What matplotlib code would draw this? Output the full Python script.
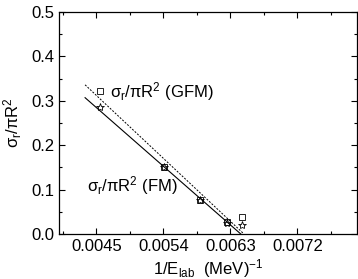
import numpy as np
import matplotlib.pyplot as plt
from matplotlib.ticker import MultipleLocator

plt.rcParams['font.family'] = ['Liberation Sans', 'DejaVu Sans']
plt.rcParams['mathtext.default'] = 'regular'
plt.rcParams['axes.unicode_minus'] = False

# data points (1/E_lab, sigma_r / pi R^2)
inv_e = [0.00455, 0.00541, 0.00589, 0.00626, 0.00646]
sig_gfm = [0.322, 0.151, 0.077, 0.027, 0.039]
sig_fm = [0.286, 0.150, 0.077, 0.025, 0.020]

# linear fits (end points)
fit_x_gfm = [0.00435, 0.00647]
fit_y_gfm = [0.336, 0.002]
fit_x_fm = [0.00435, 0.00644]
fit_y_fm = [0.307, 0.000]

xticks = [0.0045, 0.0054, 0.0063, 0.0072]
xtick_labels = ['0.0045', '0.0054', '0.0063', '0.0072']

fig = plt.figure(figsize=(3.58, 2.79), dpi=100)
ax = fig.add_axes([59 / 358, 1 - 234 / 279, 298 / 358, 222 / 279])

ax.plot(fit_x_gfm, fit_y_gfm, color='black', linestyle=(0, (2, 1.5)), linewidth=0.7)
ax.plot(fit_x_fm, fit_y_fm, color='black', linestyle='-', linewidth=0.8)
ax.plot(inv_e, sig_gfm, linestyle='none', marker='s', markersize=4.5,
        markerfacecolor='none', markeredgecolor='black', markeredgewidth=0.6)
ax.plot(inv_e, sig_fm, linestyle='none', marker='*', markersize=6,
        markerfacecolor='none', markeredgecolor='black', markeredgewidth=0.6)

ax.text(0.00468, 0.320, r'$σ_r/πR^2$ (GFM)', fontsize=12, va='center', ha='left')
ax.text(0.00437, 0.108, r'$σ_r/πR^2$ (FM)', fontsize=12, va='center', ha='left')

ax.set_xlim(0.004, 0.008)
ax.set_ylim(0.0, 0.5)
ax.set_xticks(xticks)
ax.set_xticklabels(xtick_labels)
ax.xaxis.set_minor_locator(MultipleLocator(0.00045))
ax.yaxis.set_major_locator(MultipleLocator(0.1))
ax.yaxis.set_minor_locator(MultipleLocator(0.05))
ax.yaxis.set_major_formatter(plt.FormatStrFormatter('%.1f'))

ax.tick_params(which='both', direction='in', top=True, right=True, labelsize=12, width=0.8)
ax.tick_params(which='major', length=4)
ax.tick_params(which='minor', length=2.5)
for s in ax.spines.values():
    s.set_linewidth(0.9)

ax.set_xlabel(r'1/$E_{lab}$  (MeV)$^{-1}$', fontsize=12, labelpad=2)
ax.set_ylabel(r'$σ_r/πR^2$', fontsize=12, labelpad=5)

fig.savefig('out.png', dpi=100)
